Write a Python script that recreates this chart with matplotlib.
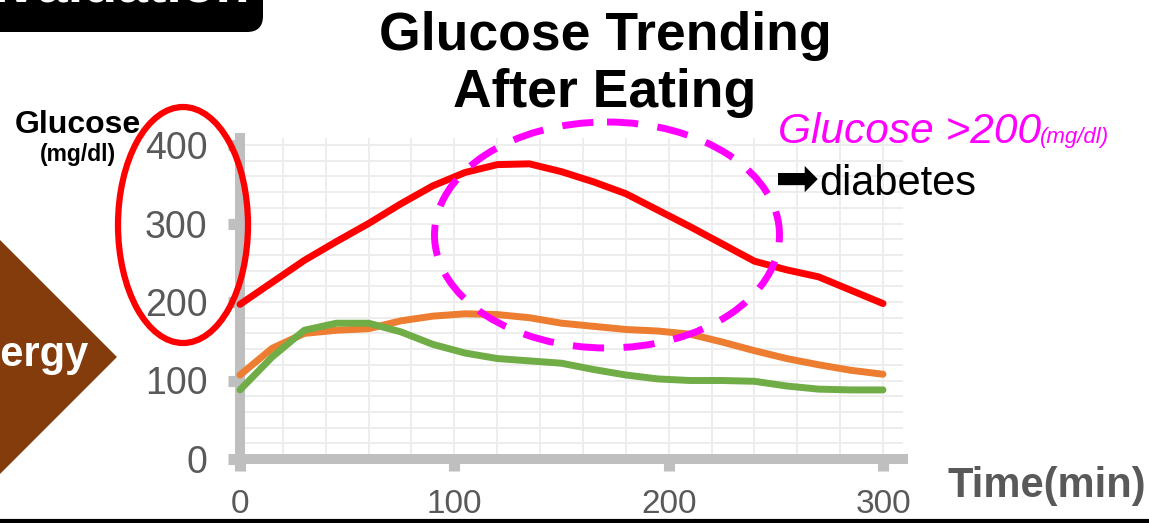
import matplotlib
matplotlib.use("Agg")
import matplotlib.pyplot as plt
from matplotlib.patches import Ellipse, Polygon, FancyBboxPatch
from matplotlib.ticker import MultipleLocator

plt.rcParams["font.family"] = ["Liberation Sans", "DejaVu Sans"]

# data (minutes after eating, mg/dl)
time_min = [0, 15, 30, 45, 60, 75, 90, 105, 120, 135, 150,
            165, 180, 195, 210, 225, 240, 255, 270, 285, 300]
glucose_diabetic = [197, 225, 253, 277, 300, 325, 348, 365, 375, 376, 366,
                    353, 338, 317, 296, 274, 252, 241, 232, 215, 198]
glucose_prediabetic = [107, 141, 160, 164, 166, 176, 182, 185, 184, 180, 173,
                       169, 165, 163, 159, 149, 138, 128, 120, 113, 108]
glucose_normal = [88, 130, 164, 173, 173, 162, 146, 135, 128, 125, 122,
                  114, 107, 102, 100, 100, 99, 93, 89, 88, 88]

x_ticks = [0, 100, 200, 300]
y_ticks = [0, 100, 200, 300, 400]

W, H = 1149, 523
GRAY = "#BFBFBF"
LABEL_GRAY = "#595959"

fig = plt.figure(figsize=(W / 100, H / 100), dpi=100)

# main chart, placed in pixel units
x0, x1, y0, y1 = 240, 903, 459, 138
ax = fig.add_axes([x0 / W, (H - y0) / H, (x1 - x0) / W, (y0 - y1) / H])
ax.set_xlim(0, (x1 - x0) / ((883 - 240) / 300))
ax.set_ylim(0, (y0 - y1) / ((459 - 145) / 400))

ax.xaxis.set_minor_locator(MultipleLocator(20))
ax.yaxis.set_minor_locator(MultipleLocator(20))
ax.set_xticks(x_ticks)
ax.set_yticks(y_ticks)
ax.grid(True, which="both", color="#EDEDED", lw=1.4, zorder=0)
ax.set_axisbelow(True)

for side in ["top", "right"]:
    ax.spines[side].set_visible(False)
for side in ["left", "bottom"]:
    ax.spines[side].set_color(GRAY)
    ax.spines[side].set_linewidth(7.2)
    ax.spines[side].set_capstyle("projecting")

ax.tick_params(which="major", direction="out", length=8.5, width=8,
               color=GRAY, labelcolor=LABEL_GRAY, labelsize=27)
ax.tick_params(axis="y", pad=15)
ax.tick_params(axis="x", pad=13, labelsize=24)
ax.tick_params(which="minor", length=0)

lw = 5
line_kw = dict(lw=lw, solid_capstyle="round", solid_joinstyle="round", clip_on=False)
ax.plot(time_min, glucose_diabetic, color="#FF0000", zorder=4, **line_kw)
ax.plot(time_min, glucose_prediabetic, color="#ED7D31", zorder=3, **line_kw)
ax.plot(time_min, glucose_normal, color="#70AD47", zorder=3, **line_kw)

# overlay in pixel coordinates for slide decorations
ov = fig.add_axes([0, 0, 1, 1], zorder=5)
ov.set_xlim(0, W)
ov.set_ylim(H, 0)
ov.axis("off")

# black header box (cut off at top)
ov.add_patch(FancyBboxPatch((-40, -60), 303, 92, boxstyle="round,pad=0,rounding_size=16",
                            fc="black", ec="black", lw=0, clip_on=False))
ov.text(250, 2, "Evaluation", color="white", fontsize=40, fontweight="bold",
        ha="right", va="baseline")

# brown diamond on the left
ov.add_patch(Polygon([(117, 357), (-2, 238), (-121, 357), (-2, 476)],
                     closed=True, fc="#843C0C", ec="none", clip_on=False))
ov.text(89, 366, "Energy", color="white", fontsize=30, fontweight="bold",
        ha="right", va="baseline")

# titles and labels
ov.text(605, 50, "Glucose Trending", fontsize=38.5, fontweight="bold",
        ha="center", va="baseline", color="black")
ov.text(605, 107, "After Eating", fontsize=38.5, fontweight="bold",
        ha="center", va="baseline", color="black")
ov.text(78, 133, "Glucose", fontsize=23, fontweight="bold",
        ha="center", va="baseline", color="black")
ov.text(78, 161, "(mg/dl)", fontsize=16.5, fontweight="bold",
        ha="center", va="baseline", color="black")
ov.text(1146, 497, "Time(min)", fontsize=30, fontweight="bold",
        ha="right", va="baseline", color=LABEL_GRAY)

ov.text(778, 143, "Glucose >200", fontsize=30.5, fontstyle="italic",
        ha="left", va="baseline", color="#FF00FF")
ov.text(1040, 143, "(mg/dl)", fontsize=16, fontstyle="italic",
        ha="left", va="baseline", color="#FF00FF")
ov.text(775, 196, "\u27a1", fontsize=38, ha="left", va="baseline", color="black",
        family=["DejaVu Sans"])
ov.text(819, 195, "diabetes", fontsize=30,
        ha="left", va="baseline", color="black")

# highlight ellipses
ov.add_patch(Ellipse((183, 225), 130, 236, fill=False, ec="#FF0000", lw=4.5))
ov.add_patch(Ellipse((607, 235), 345, 226, fill=False, ec="#FF00FF", lw=5,
                     ls=(0, (4.5, 2.8))))

# black rule at the bottom of the slide
ov.plot([0, W], [521, 521], color="black", lw=3, solid_capstyle="butt", clip_on=False)

fig.savefig("out.png", dpi=100)
